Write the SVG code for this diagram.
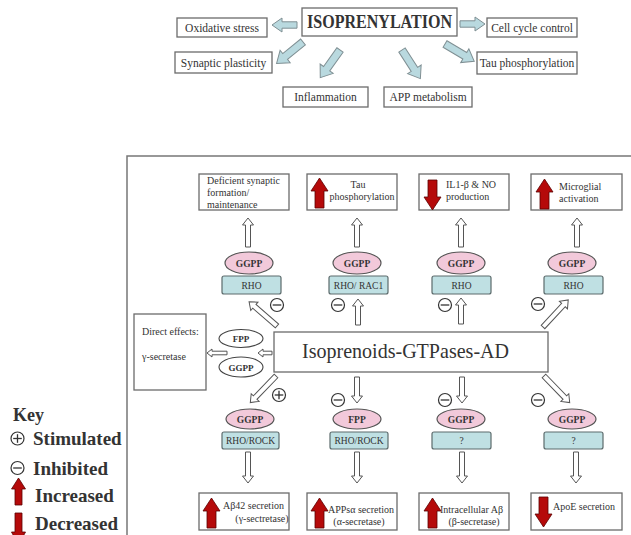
<svg xmlns="http://www.w3.org/2000/svg" xmlns:xlink="http://www.w3.org/1999/xlink" width="631" height="535" viewBox="0 0 631 535">
<style>
.bx{fill:#fff;stroke:#6b6b6b;stroke-width:1.3}
.t{font-family:"Liberation Serif","Times New Roman",serif;fill:#333}
.b{font-weight:bold}
.ha{fill:#fff;stroke:#555;stroke-width:1}
.ba{fill:#b9d9df;stroke:#7f8f93;stroke-width:1}
.el{fill:#f2c9da;stroke:#555;stroke-width:1.2}
.we{fill:#fff;stroke:#444;stroke-width:1.1}
.rb{fill:#bfe0e3;stroke:#5c6b6c;stroke-width:1.2}
.red{fill:#b50a0a;stroke:#5a0000;stroke-width:0.8}
.pn{fill:none;stroke:#777;stroke-width:1.5}
</style>
<defs>
<path id="h29" d="M0,-2.5 H22 V-5.5 L29,0 L22,5.5 V2.5 H0 Z"/>
<path id="h26" d="M0,-2.5 H19 V-5.5 L26,0 L19,5.5 V2.5 H0 Z"/>
<path id="h31" d="M0,-2.5 H24 V-5.5 L31,0 L24,5.5 V2.5 H0 Z"/>
<path id="h37" d="M0,-2.5 H30 V-5.5 L37,0 L30,5.5 V2.5 H0 Z"/>
<path id="h14" d="M0,-1.8 H9 V-4 L14,0 L9,4 V1.8 H0 Z"/>
<path id="h20" d="M0,-1.8 H15 V-4 L20,0 L15,4 V1.8 H0 Z"/>
<path id="b25" d="M0,-3.2 H15 V-7 L25,0 L15,7 V3.2 H0 Z"/>
<path id="b34" d="M0,-3.8 H23 V-8 L34,0 L23,8 V3.8 H0 Z"/>
<path id="ru" d="M8.5,0 L17,13 H13 V30 H4 V13 H0 Z"/>
<path id="rd" d="M4,0 H13 V17 H17 L8.5,30 L0,17 H4 Z"/>
<g id="mn" fill="#fff" stroke="#333" stroke-width="1.2"><circle r="6.5"/><line x1="-4.3" y1="0" x2="4.3" y2="0" stroke-width="1.3"/></g>
<g id="pl" fill="#fff" stroke="#333" stroke-width="1.2"><circle r="6.5"/><line x1="-4.3" y1="0" x2="4.3" y2="0" stroke-width="1.3"/><line x1="0" y1="-4.3" x2="0" y2="4.3" stroke-width="1.3"/></g>
</defs>

<!-- Top: isoprenylation -->
<g id="isoprenylation"><rect class="bx" x="302" y="8" width="155" height="28"/><text class="t b" x="379.5" y="28" font-size="18" text-anchor="middle" textLength="145" lengthAdjust="spacingAndGlyphs">ISOPRENYLATION</text></g>
<g id="oxidative"><rect class="bx" x="177" y="18" width="90" height="19"/><text class="t" x="222" y="31.5" font-size="11.5" text-anchor="middle">Oxidative stress</text></g>
<g id="cellcycle"><rect class="bx" x="487" y="18" width="90" height="19"/><text class="t" x="532" y="31.5" font-size="11.5" text-anchor="middle">Cell cycle control</text></g>
<g id="synaptic"><rect class="bx" x="175" y="52" width="97" height="21"/><text class="t" x="223.5" y="66.5" font-size="11.5" text-anchor="middle">Synaptic plasticity</text></g>
<g id="tauphos"><rect class="bx" x="477" y="52" width="100" height="22"/><text class="t" x="527" y="67" font-size="11.5" text-anchor="middle">Tau phosphorylation</text></g>
<g id="inflammation"><rect class="bx" x="283" y="87" width="85" height="20"/><text class="t" x="325.5" y="101" font-size="11.5" text-anchor="middle">Inflammation</text></g>
<g id="appmet"><rect class="bx" x="384" y="87" width="88" height="20"/><text class="t" x="428" y="101" font-size="11.5" text-anchor="middle">APP metabolism</text></g>

<!-- Panel -->
<path class="pn" d="M127,535 V156 H631"/>

<g id="top1"><rect class="bx" x="199" y="174" width="90" height="36"/>
<text class="t" x="207" y="184" font-size="10">Deficient synaptic</text>
<text class="t" x="207" y="196" font-size="10">formation/</text>
<text class="t" x="207" y="208" font-size="10">maintenance</text></g>
<g id="top2"><rect class="bx" x="307" y="174" width="90" height="36"/><use href="#ru" class="red" x="311" y="178"/>
<text class="t" x="358" y="188" font-size="10" text-anchor="middle">Tau</text>
<text class="t" x="362" y="200" font-size="10" text-anchor="middle">phosphorylation</text></g>
<g id="top3"><rect class="bx" x="419" y="174" width="90" height="36"/><use href="#rd" class="red" x="424" y="180"/>
<text class="t" x="446" y="188" font-size="10">IL1-β &amp; NO</text>
<text class="t" x="446" y="200" font-size="10">production</text></g>
<g id="top4"><rect class="bx" x="531" y="174" width="91" height="36"/><use href="#ru" class="red" x="536" y="179"/>
<text class="t" x="559" y="190" font-size="10">Microglial</text>
<text class="t" x="559" y="202" font-size="10">activation</text></g>

<g id="gt1"><ellipse class="el" cx="249" cy="263" rx="24" ry="11"/><text class="t b" x="249" y="266.5" font-size="9.5" text-anchor="middle">GGPP</text>
<rect class="rb" x="222" y="276" width="59" height="18" rx="2"/><text class="t" x="251.5" y="288.5" font-size="9.5" text-anchor="middle">RHO</text></g>
<g id="gt2"><ellipse class="el" cx="357" cy="263" rx="24" ry="11"/><text class="t b" x="357" y="266.5" font-size="9.5" text-anchor="middle">GGPP</text>
<rect class="rb" x="329" y="276" width="59" height="18" rx="2"/><text class="t" x="358.5" y="288.5" font-size="9.5" text-anchor="middle">RHO/ RAC1</text></g>
<g id="gt3"><ellipse class="el" cx="461" cy="263" rx="24" ry="11"/><text class="t b" x="461" y="266.5" font-size="9.5" text-anchor="middle">GGPP</text>
<rect class="rb" x="432" y="276" width="59" height="18" rx="2"/><text class="t" x="461.5" y="288.5" font-size="9.5" text-anchor="middle">RHO</text></g>
<g id="gt4"><ellipse class="el" cx="572" cy="263" rx="24" ry="11"/><text class="t b" x="572" y="266.5" font-size="9.5" text-anchor="middle">GGPP</text>
<rect class="rb" x="544" y="276" width="59" height="18" rx="2"/><text class="t" x="573.5" y="288.5" font-size="9.5" text-anchor="middle">RHO</text></g>

<g id="central"><rect class="bx" x="274" y="332" width="274" height="40"/><text class="t" x="405.5" y="358" font-size="21" text-anchor="middle" textLength="207" lengthAdjust="spacingAndGlyphs">Isoprenoids-GTPases-AD</text></g>

<g id="direct"><rect class="bx" x="134" y="314" width="72" height="76"/>
<text class="t" x="142" y="335" font-size="10">Direct effects:</text>
<text class="t" x="142" y="360" font-size="10">γ-secretase</text></g>
<g id="dfpp"><ellipse class="we" cx="241" cy="338.5" rx="22" ry="9"/><text class="t b" x="241" y="342" font-size="9" text-anchor="middle">FPP</text></g>
<g id="dggpp"><ellipse class="we" cx="241" cy="367" rx="22" ry="10"/><text class="t b" x="241" y="370.5" font-size="9" text-anchor="middle">GGPP</text></g>

<g id="gb1"><ellipse class="el" cx="250" cy="419" rx="24" ry="10"/><text class="t b" x="250" y="422.5" font-size="9.5" text-anchor="middle">GGPP</text>
<rect class="rb" x="222" y="432" width="57" height="17" rx="2"/><text class="t" x="250.5" y="444" font-size="9.5" text-anchor="middle">RHO/ROCK</text></g>
<g id="gb2"><ellipse class="el" cx="357" cy="419" rx="24" ry="10"/><text class="t b" x="357" y="422.5" font-size="9.5" text-anchor="middle">FPP</text>
<rect class="rb" x="330" y="432" width="58" height="17" rx="2"/><text class="t" x="359" y="444" font-size="9.5" text-anchor="middle">RHO/ROCK</text></g>
<g id="gb3"><ellipse class="el" cx="461" cy="419" rx="24" ry="10"/><text class="t b" x="461" y="422.5" font-size="9.5" text-anchor="middle">GGPP</text>
<rect class="rb" x="432" y="432" width="59" height="17" rx="2"/><text class="t" x="461.5" y="444" font-size="9.5" text-anchor="middle">?</text></g>
<g id="gb4"><ellipse class="el" cx="572" cy="419" rx="24" ry="10"/><text class="t b" x="572" y="422.5" font-size="9.5" text-anchor="middle">GGPP</text>
<rect class="rb" x="544" y="432" width="59" height="17" rx="2"/><text class="t" x="573.5" y="444" font-size="9.5" text-anchor="middle">?</text></g>

<g id="bot1"><rect class="bx" x="199" y="493" width="90" height="37"/><use href="#ru" class="red" x="203" y="498"/>
<text class="t" x="223" y="509" font-size="10">Aβ42 secretion</text>
<text class="t" x="262" y="522" font-size="10" text-anchor="middle">(γ-sectretase)</text></g>
<g id="bot2"><rect class="bx" x="307" y="493" width="90" height="37"/><use href="#ru" class="red" x="311" y="498"/>
<text class="t" x="328" y="513" font-size="10">APPsα secretion</text>
<text class="t" x="359" y="525" font-size="10" text-anchor="middle">(α-secretase)</text></g>
<g id="bot3"><rect class="bx" x="419" y="493" width="90" height="37"/><use href="#ru" class="red" x="424" y="498"/>
<text class="t" x="440" y="513" font-size="10">Intracellular Aβ</text>
<text class="t" x="474" y="525" font-size="10" text-anchor="middle">(β-secretase)</text></g>
<g id="bot4"><rect class="bx" x="531" y="493" width="91" height="37"/><use href="#rd" class="red" x="535" y="497"/>
<text class="t" x="553" y="510" font-size="10">ApoE secretion</text></g>

<!-- Connectors -->
<g id="connectors">
<use href="#b25" class="ba" transform="translate(297,25) rotate(180)"/>
<use href="#b25" class="ba" transform="translate(460,24)"/>
<use href="#b34" class="ba" transform="translate(303,42) rotate(141)"/>
<use href="#b34" class="ba" transform="translate(340,50) rotate(125.5)"/>
<use href="#b34" class="ba" transform="translate(402,50) rotate(57.3)"/>
<use href="#b34" class="ba" transform="translate(445,44) rotate(30.7)"/>

<use href="#h29" class="ha" transform="translate(248,247) rotate(-90)"/>
<use href="#h29" class="ha" transform="translate(357,247) rotate(-90)"/>
<use href="#h29" class="ha" transform="translate(461,247) rotate(-90)"/>
<use href="#h29" class="ha" transform="translate(577,247) rotate(-90)"/>

<use href="#h37" class="ha" transform="translate(277,326) rotate(-139)"/>
<use href="#h26" class="ha" transform="translate(358,325) rotate(-90)"/>
<use href="#h26" class="ha" transform="translate(461,324) rotate(-90)"/>
<use href="#h37" class="ha" transform="translate(543,327) rotate(-47)"/>

<use href="#h14" class="ha" transform="translate(272,353) rotate(180)"/>
<use href="#h20" class="ha" transform="translate(227,353) rotate(180)"/>

<use href="#h37" class="ha" transform="translate(276,376) rotate(134)"/>
<use href="#h26" class="ha" transform="translate(357,377) rotate(90)"/>
<use href="#h26" class="ha" transform="translate(462,377) rotate(90)"/>
<use href="#h37" class="ha" transform="translate(544,376) rotate(46)"/>

<use href="#h31" class="ha" transform="translate(248,452) rotate(90)"/>
<use href="#h31" class="ha" transform="translate(357,452) rotate(90)"/>
<use href="#h31" class="ha" transform="translate(462,452) rotate(90)"/>
<use href="#h31" class="ha" transform="translate(576,452) rotate(90)"/>
</g>

<g id="signs">
<use href="#mn" x="277" y="305"/>
<use href="#mn" x="338" y="305"/>
<use href="#mn" x="445" y="305"/>
<use href="#mn" x="538" y="304"/>
<use href="#pl" x="279" y="395"/>
<use href="#mn" x="338" y="400"/>
<use href="#mn" x="445" y="400"/>
<use href="#mn" x="538" y="400"/>
</g>

<!-- Key -->
<g id="key">
<text class="t b" x="13" y="421" font-size="18" fill="#222">Key</text>
<use href="#pl" x="17.5" y="438.5"/><use href="#mn" x="17.5" y="468"/>
<text class="t b" x="33" y="445" font-size="19">Stimulated</text>
<text class="t b" x="33" y="475" font-size="19">Inhibited</text>
<path class="red" d="M18.5,478 L25.5,489 H22 V505 H15 V489 H11.5 Z"/>
<text class="t b" x="35" y="502" font-size="19">Increased</text>
<path class="red" d="M15,513 H22 V532 H25.5 L18.5,545 L11.5,532 H15 Z"/>
<text class="t b" x="35" y="530" font-size="19">Decreased</text>
</g>
</svg>
